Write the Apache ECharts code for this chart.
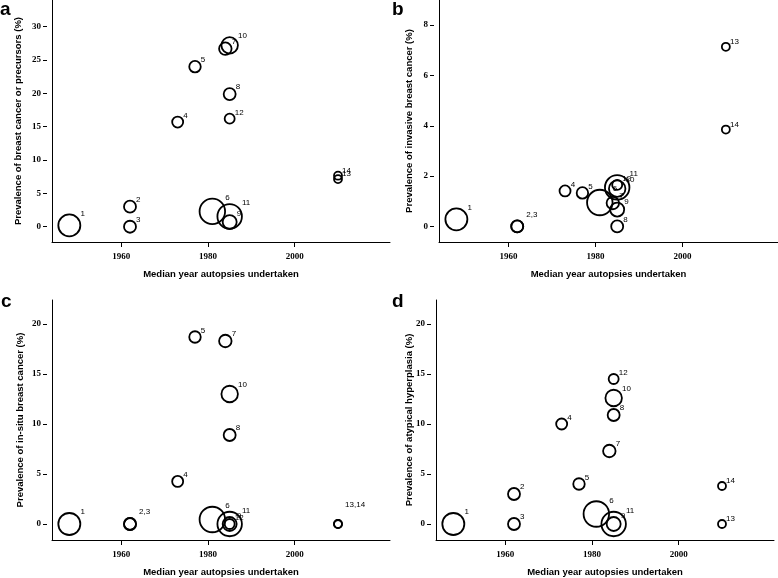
<!DOCTYPE html>
<html><head><meta charset="utf-8">
<script src="https://cdn.jsdelivr.net/npm/echarts@6/dist/echarts.min.js"></script>
<style>html,body{margin:0;padding:0;background:#fff}#c{width:778px;height:578px}</style>
</head><body><div id="c"></div>
<script>
// ---- data ----
const studyIds = ['1','2','3','4','5','6','7','8','9','10','11','12','13','14'];
const years = [1948, 1962, 1962, 1973, 1977, 1981, 1984, 1985, 1985, 1985, 1985, 1985, 2010, 2010];
// relative study weight (bubble area)
const studyWeight = [484, 144, 144, 121, 132, 650, 156, 144, 196, 272, 600, 100, 64, 64];
const prevAny = [0.2, 3.0, 0, 15.7, 24.0, 2.3, 26.7, 19.9, 0.7, 27.2, 1.55, 16.2, 7.14, 7.65];
const prevInvasive = [0.28, 0, 0, 1.41, 1.33, 0.95, 0.93, 0, 0.67, 1.5, 1.55, 1.65, 7.14, 3.85];
const prevInSitu = [0, 0, 0, 4.26, 18.7, 0.45, 18.3, 8.9, 0, 13.0, 0, 0, 0, 0];
const prevAtypical = [0, 3.0, 0, 10.0, 4.0, 1.0, 7.3, 10.9, 0, 12.6, 0, 14.5, 0, 3.8];
const labelsA = studyIds;
const labelsB = ['1','2,3','','4','5','6','7','8','9','10','11','12','13','14'];
const labelsC = ['1','2,3','','4','5','6','7','8','9','10','11','12','13,14',''];
const labelsD = studyIds;
const xTicks = [1960, 1980, 2000];
const yTicksA = [0, 5, 10, 15, 20, 25, 30];
const yTicksB = [0, 2, 4, 6, 8];
const yTicksCD = [0, 5, 10, 15, 20];
const xTitle = 'Median year autopsies undertaken';
const yTitles = ['Prevalence of breast cancer or precursors (%)',
  'Prevalence of invasive breast cancer (%)',
  'Prevalence of in-situ breast cancer (%)',
  'Prevalence of atypical hyperplasia (%)'];
const panelLetters = ['a', 'b', 'c', 'd'];

// ---- layout / style ----
const panels = [
  {vals: prevAny, labels: labelsA, ticks: yTicksA, ymin: -2.29, ymax: 34, grid: {left: 52, top: 0, width: 338, height: 242}, yGap: 29, letter: [0, 0]},
  {vals: prevInvasive, labels: labelsB, ticks: yTicksB, ymin: -0.62, ymax: 9.0, grid: {left: 439, top: 0, width: 339, height: 242}, yGap: 25, letter: [392, 0]},
  {vals: prevInSitu, labels: labelsC, ticks: yTicksCD, ymin: -1.6, ymax: 22.4, grid: {left: 52, top: 300, width: 338, height: 241}, yGap: 27, letter: [1, 292]},
  {vals: prevAtypical, labels: labelsD, ticks: yTicksCD, ymin: -1.6, ymax: 22.4, grid: {left: 436, top: 300, width: 338, height: 241}, yGap: 22, letter: [392, 292]}
];
const labelShift = {'2,3': [3, -5], '13,14': [3, -14]};
const serif = 'Liberation Serif';
const sans = 'Liberation Sans';

const option = {
  animation: false,
  backgroundColor: '#fff',
  grid: [], xAxis: [], yAxis: [], series: [], graphic: []
};
panels.forEach((p, i) => {
  option.grid.push(Object.assign({containLabel: false}, p.grid));
  option.xAxis.push({
    type: 'value', gridIndex: i, position: 'bottom', min: 1944, max: 2022,
    name: xTitle, nameLocation: 'middle', nameGap: 27,
    nameTextStyle: {fontFamily: sans, fontWeight: 'bold', fontSize: 9.5, color: '#000'},
    axisLine: {show: true, onZero: false, lineStyle: {color: '#000', width: 1}},
    axisTick: {show: true, length: 5, inside: false, customValues: xTicks, lineStyle: {color: '#000'}},
    axisLabel: {show: true, margin: 10, customValues: xTicks, formatter: v => String(v),
      fontFamily: serif, fontWeight: 'bold', fontSize: 9, color: '#000'},
    splitLine: {show: false}
  });
  option.yAxis.push({
    type: 'value', gridIndex: i, position: 'left', min: p.ymin, max: p.ymax,
    name: yTitles[i], nameLocation: 'middle', nameGap: p.yGap,
    nameTextStyle: {fontFamily: sans, fontWeight: 'bold', fontSize: 9.5, color: '#000'},
    axisLine: {show: true, onZero: false, lineStyle: {color: '#000', width: 1}},
    axisTick: {show: false}, axisLabel: {show: false}, splitLine: {show: false}
  });
  option.yAxis.push({
    type: 'value', gridIndex: i, position: 'left', min: p.ymin, max: p.ymax, offset: 5,
    axisLine: {show: false},
    axisTick: {show: true, length: 4, customValues: p.ticks, lineStyle: {color: '#000'}},
    axisLabel: {show: true, margin: 6, customValues: p.ticks, formatter: v => String(v),
      fontFamily: serif, fontWeight: 'bold', fontSize: 9, color: '#000'},
    splitLine: {show: false}
  });
  const data = years.map((yr, k) => {
    const d = Math.sqrt(studyWeight[k]);
    const sh = labelShift[p.labels[k]] || [0, 0];
    return {
      value: [yr, p.vals[k]],
      symbolSize: d,
      label: {
        show: p.labels[k] !== '', formatter: p.labels[k], color: '#000',
        fontFamily: sans, fontSize: 8,
        position: [d + 1 + sh[0], sh[1]], align: 'left', verticalAlign: 'middle'
      }
    };
  });
  option.series.push({
    type: 'scatter', xAxisIndex: i, yAxisIndex: 2 * i,
    symbol: 'circle',
    itemStyle: {color: 'rgba(0,0,0,0)', borderColor: '#000', borderWidth: 1.8, opacity: 1},
    label: {fontFamily: sans, fontSize: 8, color: '#000'},
    emphasis: {disabled: true},
    data: data
  });
  option.graphic.push({
    type: 'text', left: p.letter[0], top: p.letter[1],
    style: {text: panelLetters[i], font: 'bold 19px "Liberation Sans"', fill: '#000'}
  });
});
const chart = echarts.init(document.getElementById('c'), null, {renderer: 'canvas'});
chart.setOption(option);
</script>
</body></html>
